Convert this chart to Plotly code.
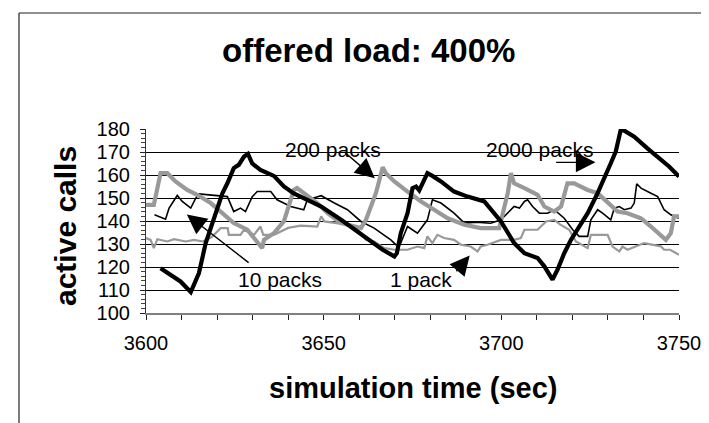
import plotly.graph_objects as go

# ---- data ----
t_2000 = [3604.1, 3609.7, 3612.6, 3614.9, 3616.8, 3619.3, 3621.5, 3622.9, 3624.7, 3626.1, 3627.6, 3628.7,
          3629.9, 3632.2, 3636.0, 3638.8, 3641.6, 3645.4, 3649.3, 3654.9, 3659.6, 3664.2, 3666.6, 3669.9,
          3670.6, 3671.7, 3673.6, 3675.0, 3676.0, 3676.9, 3678.3, 3679.2, 3680.6, 3683.0, 3686.7, 3690.5,
          3695.2, 3697.5, 3699.9, 3703.6, 3706.5, 3710.2, 3712.1, 3714.4, 3715.8, 3717.7, 3719.6, 3721.4,
          3724.3, 3727.1, 3729.0, 3730.8, 3732.2, 3733.6, 3734.6, 3737.4, 3741.1, 3744.9, 3747.2, 3750.0]
v_2000 = [119.5, 113.7, 109.1, 117.4, 130.4, 142.0, 152.0, 156.4, 163.0, 164.4, 168.0, 169.2,
          165.0, 162.2, 159.6, 155.0, 152.0, 149.2, 146.3, 140.5, 135.5, 130.4, 127.5, 124.6,
          126.0, 134.7, 143.4, 154.3, 155.0, 153.3, 157.9, 160.8, 159.6, 157.2, 152.8, 150.6,
          148.5, 144.1, 139.8, 130.4, 126.0, 123.9, 120.3, 114.5, 118.8, 126.0, 131.8, 136.2,
          143.4, 152.1, 159.3, 165.1, 170.2, 179.6, 179.3, 176.7, 171.6, 166.6, 163.7, 159.3]

t_200 = [3600.0, 3602.2, 3604.1, 3606.0, 3608.3, 3611.6, 3614.4, 3618.2, 3621.0, 3624.7, 3628.5, 3630.8,
         3632.7, 3633.2, 3636.0, 3638.8, 3641.6, 3642.5, 3644.4, 3648.2, 3651.1, 3654.9, 3660.5, 3661.9,
         3663.3, 3664.7, 3665.7, 3666.6, 3667.5, 3669.9, 3673.6, 3677.4, 3681.1, 3684.9, 3689.6, 3694.2,
         3699.4, 3700.4, 3701.8, 3702.7, 3703.6, 3706.5, 3710.2, 3712.1, 3714.9, 3716.8, 3718.6, 3720.5,
         3724.3, 3727.1, 3729.9, 3732.7, 3735.5, 3739.3, 3742.1, 3744.4, 3746.3, 3747.7, 3748.6, 3750.0]
v_200 = [147.0, 147.0, 160.8, 160.8, 157.2, 153.5, 151.4, 147.8, 144.1, 139.1, 136.2, 131.8,
         128.2, 131.8, 134.7, 139.8, 153.5, 154.3, 152.1, 147.8, 143.4, 139.1, 136.9, 140.5,
         146.3, 152.1, 157.9, 163.4, 160.8, 157.2, 152.8, 148.5, 144.9, 141.2, 138.4, 136.9,
         136.9, 144.1, 152.1, 160.8, 156.4, 154.3, 151.4, 146.3, 144.1, 146.3, 156.4, 156.4,
         153.5, 152.1, 147.8, 144.1, 143.4, 141.2, 137.6, 134.7, 131.8, 134.7, 142.0, 142.0]

t_10 = [3602.4, 3605.5, 3606.5, 3608.8, 3610.2, 3612.6, 3614.0, 3614.9, 3622.9, 3624.7, 3626.6, 3628.0,
        3629.9, 3631.3, 3635.1, 3636.9, 3640.7, 3644.4, 3645.4, 3649.3, 3653.0, 3656.7, 3660.5, 3664.2,
        3668.9, 3670.3, 3671.5, 3673.6, 3676.4, 3679.2, 3680.6, 3683.0, 3686.7, 3689.6, 3693.0, 3697.0,
        3699.9, 3701.8, 3703.6, 3705.1, 3706.5, 3707.4, 3708.8, 3710.7, 3713.0, 3714.9, 3717.7, 3720.1,
        3721.9, 3724.3, 3725.2, 3727.1, 3728.5, 3730.8, 3731.8, 3733.2, 3734.6, 3736.5, 3737.4, 3738.1,
        3739.3, 3742.1, 3744.0, 3745.8, 3747.7, 3750.0]
v_10 = [142.7, 140.8, 145.6, 151.1, 148.5, 145.6, 149.9, 151.8, 150.6, 144.1, 145.6, 144.1,
        150.6, 152.8, 152.8, 149.2, 146.3, 144.9, 149.2, 151.0, 147.8, 144.9, 139.8, 136.9,
        131.8, 129.7, 129.7, 137.6, 134.7, 140.5, 149.2, 147.8, 143.4, 139.1, 139.5, 139.0,
        140.5, 143.4, 146.3, 145.6, 148.5, 149.2, 146.3, 143.4, 143.4, 144.9, 141.2, 136.2,
        133.3, 133.3, 140.5, 144.9, 143.4, 140.5, 145.6, 146.3, 144.9, 145.6, 147.8, 156.2,
        154.3, 152.1, 150.6, 144.9, 142.7, 141.2]

t_1 = [3600.0, 3601.3, 3602.2, 3603.2, 3606.0, 3607.9, 3611.2, 3613.5, 3616.0, 3618.5, 3621.0, 3623.0,
       3623.3, 3626.6, 3627.6, 3630.4, 3632.2, 3633.0, 3636.0, 3640.0, 3643.5, 3646.3, 3648.2, 3649.3,
       3650.2, 3656.7, 3659.6, 3661.9, 3664.2, 3667.1, 3669.9, 3673.6, 3676.4, 3678.3, 3679.2, 3680.6,
       3682.0, 3683.9, 3686.7, 3688.6, 3691.4, 3693.3, 3694.2, 3696.1, 3699.9, 3703.6, 3705.5, 3706.5,
       3710.2, 3712.6, 3714.9, 3716.5, 3719.1, 3721.0, 3723.3, 3724.3, 3725.2, 3729.9, 3731.3, 3733.2,
       3734.1, 3735.5, 3740.2, 3743.0, 3744.9, 3745.8, 3747.5, 3750.0]
v_1 = [132.6, 131.8, 128.2, 132.1, 131.1, 132.1, 131.1, 131.8, 131.1, 133.0, 136.9, 136.9,
       134.0, 134.0, 136.2, 134.0, 137.6, 134.0, 134.0, 137.0, 138.0, 137.6, 137.6, 142.0,
       139.8, 138.4, 136.2, 131.8, 131.1, 128.2, 127.5, 127.5, 128.9, 128.2, 133.3, 130.4,
       134.0, 132.6, 131.8, 129.7, 128.9, 126.8, 128.9, 129.7, 131.8, 131.8, 132.6, 136.2,
       136.2, 139.8, 140.5, 138.5, 136.2, 131.1, 128.9, 128.2, 134.0, 134.0, 128.9, 126.8,
       128.9, 127.5, 130.4, 129.7, 129.0, 127.5, 127.5, 125.3]

x_ticks = [3600, 3650, 3700, 3750]
y_ticks = [100, 110, 120, 130, 140, 150, 160, 170, 180]

FONT = "Liberation Sans, Arial, sans-serif"
GRAY = "#999999"

fig = go.Figure()
fig.add_trace(go.Scatter(x=t_1, y=v_1, mode="lines", line=dict(color=GRAY, width=2.2), name="1 pack"))
fig.add_trace(go.Scatter(x=t_10, y=v_10, mode="lines", line=dict(color="#000000", width=1.6), name="10 packs"))
fig.add_trace(go.Scatter(x=t_200, y=v_200, mode="lines", line=dict(color=GRAY, width=4.2), name="200 packs"))
fig.add_trace(go.Scatter(x=t_2000, y=v_2000, mode="lines", line=dict(color="#000000", width=4.2), name="2000 packs"))

W, H = 709, 423
L, R, T, B = 138, 38, 121, 118
pw, ph = W - L - R, H - T - B

def px_to_paper(px, py):
    return (px - L) / pw, (H - B - py) / ph

annots = []
# text labels
for txt, tx, ty in [("200 packs", 3652.5, 171.2), ("2000 packs", 3710.6, 171.2),
                    ("10 packs", 3637.7, 114.4), ("1 pack", 3677.3, 114.5)]:
    annots.append(dict(x=tx, y=ty, xref="x", yref="y", text=txt, showarrow=False,
                       font=dict(family=FONT, size=21, color="#000")))
# arrows
for (hx, hy, tx, ty) in [(3664.4, 158.6, 3655.4, 170.6), (3726.5, 165.5, 3715.0, 165.5),
                         (3611.5, 142.8, 3629.3, 121.4), (3691.1, 125.0, 3687.0, 117.5)]:
    annots.append(dict(x=hx, y=hy, xref="x", yref="y", ax=tx, ay=ty, axref="x", ayref="y",
                       text="", showarrow=True, arrowhead=2, arrowsize=2.8, arrowwidth=1.4,
                       arrowcolor="#000"))

xa, ya = px_to_paper(405, 380)
annots.append(dict(x=0.5, y=ya, xref="paper", yref="paper", text="<b>simulation time (sec)</b>",
                   showarrow=False, font=dict(family=FONT, size=29, color="#000"), yanchor="middle"))
xa, ya = px_to_paper(57, 218)
annots.append(dict(x=xa, y=ya, xref="paper", yref="paper", text="<b>active calls</b>", textangle=-90,
                   showarrow=False, font=dict(family=FONT, size=30, color="#000"),
                   xanchor="center", yanchor="middle"))
xa, ya = px_to_paper(360, 43)
annots.append(dict(x=xa, y=ya, xref="paper", yref="paper", text="<b>offered load: 400%</b>",
                   showarrow=False, font=dict(family=FONT, size=33, color="#000"),
                   xanchor="center", yanchor="middle"))

# frame lines (top and left of chart area)
fx0, fy0 = px_to_paper(11, 5)
fx1, fy1 = px_to_paper(712, 430)
shapes = [
    dict(type="line", xref="paper", yref="paper", x0=fx0, y0=fy0, x1=fx1, y1=fy0,
         line=dict(color="#222", width=1.2)),
    dict(type="line", xref="paper", yref="paper", x0=fx0, y0=fy0, x1=fx0, y1=fy1,
         line=dict(color="#222", width=1.2)),
]

fig.update_layout(
    width=W, height=H,
    margin=dict(l=L, r=R, t=T, b=B),
    paper_bgcolor="white", plot_bgcolor="white",
    showlegend=False,
    annotations=annots,
    shapes=shapes,
    font=dict(family=FONT, color="#000"),
    xaxis=dict(range=[3600, 3750], tickvals=x_ticks, ticktext=[str(v) for v in x_ticks],
               showgrid=False, zeroline=False, showline=True, linecolor="#808080", linewidth=1.5,
               ticks="outside", ticklen=5, tickcolor="#222", tickwidth=1,
               minor=dict(dtick=10, ticks="outside", ticklen=5, tickcolor="#222", tickwidth=1, showgrid=False),
               tickfont=dict(family=FONT, size=20, color="#000"), ticklabelstandoff=6),
    yaxis=dict(range=[100, 180], tickvals=y_ticks, showgrid=True, gridcolor="#000", gridwidth=1,
               zeroline=False, showline=True, linecolor="#333", linewidth=1.2,
               ticks="outside", ticklen=5, tickcolor="#222", tickwidth=1,
               minor=dict(dtick=2, ticks="outside", ticklen=4, tickcolor="#444", tickwidth=1, showgrid=False),
               tickfont=dict(family=FONT, size=20, color="#000"), ticklabelstandoff=6),
)

fig.write_html("out.html")
